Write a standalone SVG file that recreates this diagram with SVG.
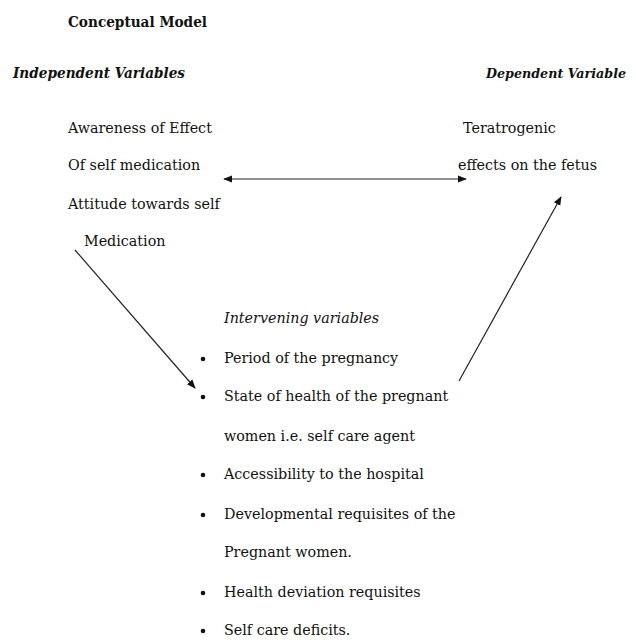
<svg xmlns="http://www.w3.org/2000/svg" width="636" height="640" viewBox="0 0 636 640">
<style>
text{font-family:"DejaVu Serif","Liberation Serif",serif;font-size:14.3px;fill:#111}
.b{font-weight:bold}
.i{font-style:italic}
.bi{font-weight:bold;font-style:italic}
.c{stroke:#222;stroke-width:1.2;fill:none}
</style>
<defs>
<marker id="ah" viewBox="0 0 10 10" refX="9" refY="5" markerWidth="9" markerHeight="9" markerUnits="userSpaceOnUse" orient="auto-start-reverse">
<path d="M0,1 L10,5 L0,9 z" fill="#111"/>
</marker>
</defs>
<rect width="636" height="640" fill="#fff"/>
<g id="title"><text x="68" y="27" class="b" textLength="139" lengthAdjust="spacingAndGlyphs">Conceptual Model</text></g>
<g id="independent">
<text x="13" y="78" class="bi" textLength="172" lengthAdjust="spacingAndGlyphs">Independent Variables</text>
<text x="68" y="133">Awareness of Effect</text>
<text x="68" y="170">Of self medication</text>
<text x="68" y="209">Attitude towards self</text>
<text x="84" y="246">Medication</text>
</g>
<g id="dependent">
<text x="486" y="78" class="bi" style="font-size:12.7px">Dependent Variable</text>
<text x="463" y="133">Teratrogenic</text>
<text x="458" y="170">effects on the fetus</text>
</g>
<g id="intervening">
<text x="224" y="323" class="i">Intervening variables</text>
<g fill="#111">
<circle cx="203" cy="359" r="2.3"/>
<circle cx="203" cy="397" r="2.3"/>
<circle cx="203" cy="475" r="2.3"/>
<circle cx="203" cy="515" r="2.3"/>
<circle cx="203" cy="593" r="2.3"/>
<circle cx="203" cy="631" r="2.3"/>
</g>
<text x="224" y="363">Period of the pregnancy</text>
<text x="224" y="401">State of health of the pregnant</text>
<text x="224" y="441">women i.e. self care agent</text>
<text x="224" y="479">Accessibility to the hospital</text>
<text x="224" y="519">Developmental requisites of the</text>
<text x="224" y="557">Pregnant women.</text>
<text x="224" y="597">Health deviation requisites</text>
<text x="224" y="635">Self care deficits.</text>
</g>
<g id="connectors">
<line class="c" x1="224" y1="179" x2="466" y2="179" marker-start="url(#ah)" marker-end="url(#ah)"/>
<line class="c" x1="75" y1="250" x2="195" y2="388" marker-end="url(#ah)"/>
<line class="c" x1="459" y1="381" x2="561" y2="197" marker-end="url(#ah)"/>
</g>
</svg>
